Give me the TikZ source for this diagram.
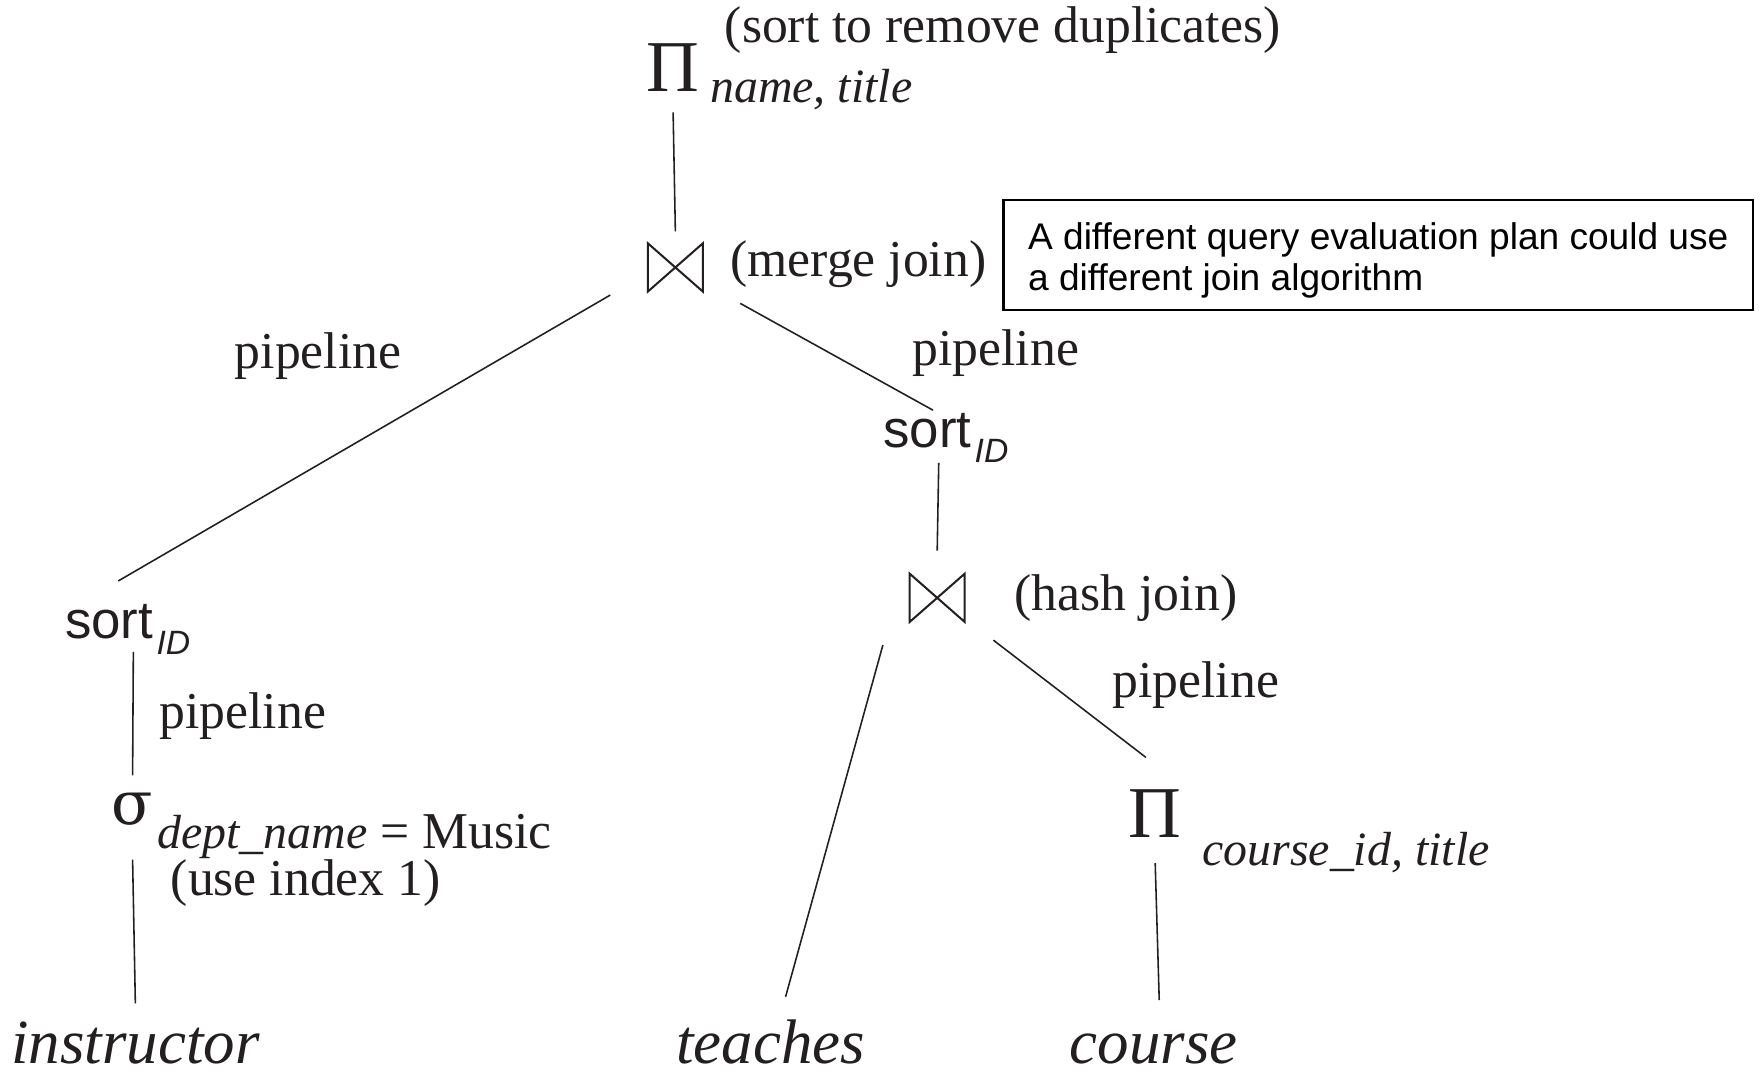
\documentclass[tikz,border=0pt]{standalone}
\usepackage{fontspec}
\newfontfamily\arialf{Liberation Sans}
\newfontfamily\timesf{Liberation Serif}
\newfontfamily\dejaf{DejaVu Serif}
\definecolor{ink}{RGB}{35,31,32}
\tikzset{
  lbl/.style={inner sep=0pt, outer sep=0pt, text=ink, anchor=base west,
              font=\timesf\fontsize{23}{27}\selectfont},
  sublbl/.style={lbl, font=\timesf\itshape\fontsize{21.3}{25}\selectfont},
  rel/.style={inner sep=0pt, outer sep=0pt, text=ink, anchor=base west,
              text depth=0pt, font=\timesf\itshape\fontsize{28}{32}\selectfont},
  op/.style={inner sep=0pt, outer sep=0pt, text=ink, anchor=base},
  bigpi/.style={op, font=\timesf\fontsize{32.5}{36}\selectfont},
  joinhub/.style={inner sep=0pt, outer sep=0pt, minimum width=#1, minimum height=42pt},
  sortop/.style={inner sep=0pt, outer sep=0pt, text=ink, anchor=base west},
  edge/.style={draw=ink, line width=0.7pt},
  bowtie/.pic={\draw[ink, line width=0.9pt, line join=miter]
      (-24.5,-21.5) -- (-24.5,21.5) -- (24.5,-21.5) -- (24.5,21.5) -- cycle;},
  note/.style={draw=black, line width=1.1pt, text=black, align=left,
              minimum width=333.5pt, minimum height=49pt, inner sep=0pt,
              font=\arialf\fontsize{16.5}{18}\selectfont}
}
\newcommand\sortid{{\arialf\fontsize{23.5}{26}\selectfont sort}\kern1.5pt\raisebox{-7pt}{\arialf\itshape\fontsize{15}{17}\selectfont ID}}
\begin{document}
\begin{tikzpicture}[x=0.5pt,y=-0.5pt]
\useasboundingbox (0,0) rectangle (1568,956);

% projection at the root
\node[bigpi, text height=22pt, text depth=9.5pt] (piTop) at (599,81) {Π};
\node[sublbl] (piTopSub) at (632,91) {name, title};
\node[lbl] (piTopNote) at (645,38) {(sort to remove duplicates)};

% merge join
\node[joinhub=58pt, minimum height=32pt] (mj) at (601,238) {};
\pic at (mj.center) {bowtie};
\node[lbl] (mjNote) at (650,246) {(merge join)};

\node[note] (remark) at (1226.5,227)
  {\rule{0pt}{16.5pt}A different query evaluation plan could use\\a different join algorithm};

% left branch
\node[sortop, text height=25.5pt, text depth=6pt] (sortL) at (58,568) {\sortid};
\node[lbl] (pipeA) at (209,328) {pipeline};
\node[lbl] (pipeB) at (142,648) {pipeline};
\node[op, font=\dejaf\fontsize{27}{31}\selectfont, text height=22pt, text depth=15.5pt] (sigma) at (118,734) {σ};
\node[lbl] (sigmaSub) at (140,755) {{\itshape\fontsize{21.3}{25}\selectfont dept\_name} = Music};
\node[lbl] (sigmaNote) at (152,797) {(use index 1)};
\node[rel, text height=26.5pt] (instructor) at (10,946) {instructor};

% right branch
\node[lbl] (pipeC) at (812,325) {pipeline};
\node[sortop, text height=16.5pt, text depth=7pt] (sortR) at (786,398) {\sortid};
\node[joinhub=50pt] (hj) at (834,532) {};
\pic at (hj.center) {bowtie};
\node[lbl] (hjNote) at (903,543) {(hash join)};
\node[lbl] (pipeD) at (990,621) {pipeline};
\node[bigpi, text height=35.5pt, text depth=11.5pt] (piC) at (1028,745) {Π};
\node[sublbl] (piCSub) at (1070,770) {course\_id, title};
\node[rel, text height=29.5pt] (teaches) at (602,946) {teaches};
\node[rel, text height=28pt] (course) at (952,946) {course};

% connectors
\draw[edge] (piTop.south) -- (mj.north);
\draw[edge] (mj.203) -- (sortL.105);
\draw[edge] (mj.-29) -- (sortR.116);
\draw[edge] (sortR.-105) -- (hj.north);
\draw[edge] (hj.221) -- (teaches.66);
\draw[edge] (hj.-37) -- (piC.100);
\draw[edge] (piC.south) -- (course.80);
\draw[edge] (sortL.-81) -- (sigma.north);
\draw[edge] (sigma.south) -- (instructor.north);
\end{tikzpicture}
\end{document}
